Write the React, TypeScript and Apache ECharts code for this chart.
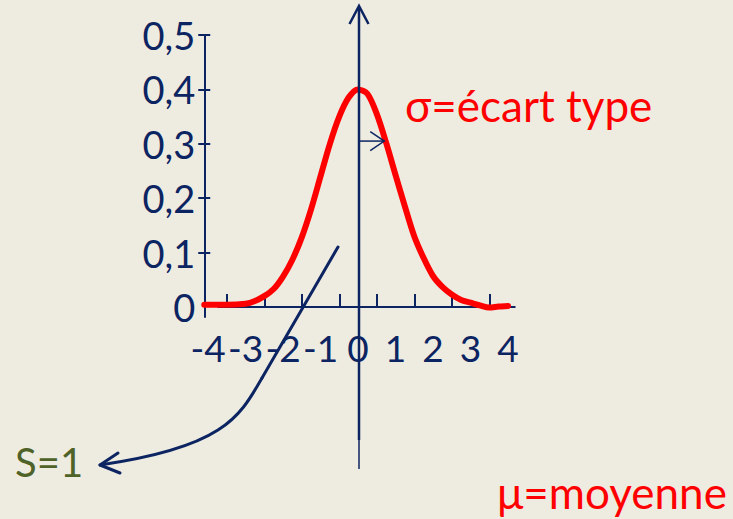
import { useEffect, useRef } from 'react';
import * as echarts from 'echarts';

// Normal density curve (μ = 0, σ = 1) sampled along x
const X_VALUES = [
  -4.1, -3.5, -3, -2.75, -2.5, -2.25, -2, -1.75, -1.5, -1.25, -1, -0.75, -0.5, -0.25, 0,
  0.25, 0.5, 0.75, 1, 1.25, 1.5, 1.75, 2, 2.25, 2.5, 2.75, 3, 3.25, 3.5, 3.75, 4,
];
const DENSITY = [
  0.004, 0.004, 0.006, 0.011, 0.02, 0.033, 0.056, 0.087, 0.128, 0.18, 0.24, 0.3, 0.35, 0.385, 0.4,
  0.392, 0.355, 0.302, 0.243, 0.185, 0.13, 0.09, 0.057, 0.037, 0.023, 0.013, 0.008, 0.003, -0.001, 0.001, 0.002,
];

// Axis ticks and labels
const X_LABELS = [-4, -3, -2, -1, 0, 1, 2, 3, 4];
const X_TICKS = [-3.5, -2.5, -1.5, -0.5, 0.5, 1.5, 2.5, 3.5];
const Y_LABELS = [0, 0.1, 0.2, 0.3, 0.4, 0.5];
const Y_TICKS = [0.1, 0.2, 0.3, 0.4, 0.5];

// Extent of the drawn horizontal axis line
const AXIS_START = -3.75;
const AXIS_END = 4.2;

// σ arrow: drawn from the mean towards the curve at this height
const SIGMA_LEVEL = 0.305;
const SIGMA_REACH = 0.7;

const NAVY = '#0C2461';
const RED = '#FF0000';
const OLIVE = '#4F6228';
const BG = '#EEECE1';
const FONT = 'Lato, "Noto Sans", "DejaVu Sans", sans-serif';

export default function App() {
  const ref = useRef<HTMLDivElement>(null);

  useEffect(() => {
    const el = ref.current;
    if (!el) return;
    const chart = echarts.init(el, null, { renderer: 'svg' });

    const curve = X_VALUES.map((x, i) => [x, DENSITY[i]]);
    const yMin = -0.01838;

    chart.setOption({
      animation: false,
      backgroundColor: BG,
      grid: {
        left: 204.25,
        right: 206.25,
        top: 35,
        bottom: 202,
        containLabel: false,
        outerBoundsMode: 'none',
      },
      xAxis: {
        type: 'value',
        min: -4.1,
        max: 4.5,
        axisLine: { show: true, onZero: true, lineStyle: { color: 'rgba(0,0,0,0)', width: 0 } },
        axisTick: {
          show: true,
          inside: true,
          length: 13,
          customValues: X_TICKS,
          lineStyle: { color: NAVY, width: 2 },
        },
        axisLabel: {
          show: true,
          customValues: X_LABELS,
          formatter: (v: number) => String(v),
          color: NAVY,
          fontSize: 37,
          fontFamily: FONT,
          margin: 12,
        },
        splitLine: { show: false },
      },
      yAxis: [
        {
          type: 'value',
          min: yMin,
          max: 0.5,
          position: 'left',
          axisLine: { show: true, onZero: false, lineStyle: { color: NAVY, width: 2 } },
          axisTick: {
            show: true,
            inside: false,
            length: 6,
            customValues: Y_TICKS,
            lineStyle: { color: NAVY, width: 2 },
          },
          axisLabel: {
            show: true,
            customValues: Y_LABELS,
            formatter: (v: number) => (v === 0 ? '0' : v.toFixed(1).replace('.', ',')),
            color: NAVY,
            fontSize: 38,
            fontFamily: FONT,
            margin: 9,
          },
          splitLine: { show: false },
        },
        {
          type: 'value',
          min: yMin,
          max: 0.5,
          position: 'left',
          axisLine: { show: false, onZero: false },
          axisTick: {
            show: true,
            inside: true,
            length: 6,
            customValues: Y_TICKS,
            lineStyle: { color: NAVY, width: 2 },
          },
          axisLabel: { show: false },
          splitLine: { show: false },
        },
      ],
      series: [
        {
          name: 'axe',
          type: 'line',
          data: [
            [AXIS_START, 0],
            [AXIS_END, 0],
          ],
          showSymbol: false,
          symbol: 'none',
          lineStyle: { color: NAVY, width: 2 },
          silent: true,
          z: 1,
        },
        {
          name: 'densité',
          type: 'line',
          data: curve,
          smooth: 0.3,
          showSymbol: false,
          symbol: 'none',
          clip: false,
          lineStyle: { color: RED, width: 6, cap: 'round', join: 'round' },
          z: 3,
        },
      ],
    });

    const [mx] = chart.convertToPixel({ gridIndex: 0 }, [0, 0]) as number[];
    const [sx0, sy] = chart.convertToPixel({ gridIndex: 0 }, [0, SIGMA_LEVEL]) as number[];
    const [sx1] = chart.convertToPixel({ gridIndex: 0 }, [SIGMA_REACH, SIGMA_LEVEL]) as number[];
    const ax = mx + 1;

    chart.setOption({
      graphic: [
        // vertical axis through the mean, with arrow head
        {
          type: 'line',
          z: 10,
          shape: { x1: ax, y1: 7, x2: ax, y2: 440 },
          style: { stroke: NAVY, lineWidth: 2.5 },
        },
        {
          type: 'line',
          z: 10,
          shape: { x1: ax, y1: 440, x2: ax, y2: 469 },
          style: { stroke: NAVY, lineWidth: 1.5 },
        },
        {
          type: 'polyline',
          z: 10,
          shape: { points: [[ax - 9.5, 24], [ax, 6], [ax + 9.5, 24]] },
          style: { stroke: NAVY, lineWidth: 2.5, fill: 'none', lineJoin: 'miter' },
        },
        // σ arrow
        {
          type: 'line',
          z: 10,
          shape: { x1: sx0 + 1, y1: sy, x2: sx1, y2: sy },
          style: { stroke: NAVY, lineWidth: 1.5 },
        },
        {
          type: 'polyline',
          z: 10,
          shape: { points: [[sx1 - 14, sy - 9.5], [sx1, sy], [sx1 - 14, sy + 9.5]] },
          style: { stroke: NAVY, lineWidth: 1.5, fill: 'none' },
        },
        // curved arrow pointing to the area label
        {
          type: 'line',
          z: 10,
          shape: { x1: 338, y1: 247, x2: 262, y2: 378 },
          style: { stroke: NAVY, lineWidth: 3, lineCap: 'round' },
        },
        {
          type: 'bezierCurve',
          z: 10,
          shape: { x1: 262, y1: 378, cpx1: 240, cpy1: 416, cpx2: 225, cpy2: 447, x2: 100, y2: 465 },
          style: { stroke: NAVY, lineWidth: 3, fill: 'none', lineCap: 'round' },
        },
        {
          type: 'polyline',
          z: 10,
          shape: { points: [[118, 453], [100, 465], [120, 473]] },
          style: { stroke: NAVY, lineWidth: 3, fill: 'none', lineCap: 'round', lineJoin: 'round' },
        },
        // texts
        {
          type: 'text',
          z: 10,
          style: {
            text: 'σ=écart type',
            x: 405,
            y: 105,
            fill: RED,
            font: `44px ${FONT}`,
            align: 'left',
            verticalAlign: 'middle',
          },
        },
        {
          type: 'text',
          z: 10,
          style: {
            text: 'μ=moyenne',
            x: 497,
            y: 492,
            fill: RED,
            font: `44px ${FONT}`,
            align: 'left',
            verticalAlign: 'middle',
          },
        },
        {
          type: 'text',
          z: 10,
          style: {
            text: 'S=1',
            x: 15,
            y: 462,
            fill: OLIVE,
            font: `40px ${FONT}`,
            align: 'left',
            verticalAlign: 'middle',
          },
        },
      ],
    });

    return () => chart.dispose();
  }, []);

  return (
    <div
      ref={ref}
      style={{ position: 'fixed', left: 0, top: 0, width: 733, height: 519, background: BG }}
    />
  );
}
